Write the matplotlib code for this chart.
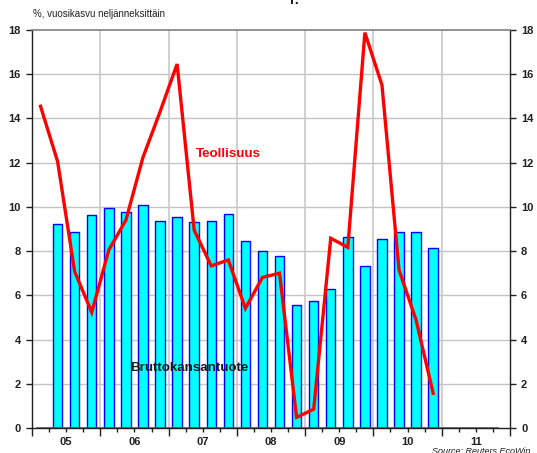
import matplotlib
matplotlib.use("Agg")
import matplotlib.pyplot as plt
import matplotlib.transforms as mtransforms
import numpy as np

plt.rcParams['font.family'] = ['Liberation Sans', 'DejaVu Sans']

# Quarterly data, 2005Q1 .. 2010Q4 (quarter index 0 = 2005Q1)
teollisuus = [14.55, 12.05, 7.07, 5.23, 8.05, 9.4, 12.24, 14.3, 16.46, 8.95,
              7.33, 7.6, 5.41, 6.81, 7.0, 0.48, 0.85, 8.58, 8.17, 17.88,
              15.51, 7.15, 4.88, 1.57]
# 2005Q2 .. 2010Q4
bkt = [9.23, 8.88, 9.65, 9.94, 9.75, 10.1, 9.35, 9.56, 9.3, 9.35,
       9.68, 8.44, 7.99, 7.78, 5.58, 5.74, 6.3, 8.62, 7.31, 8.53,
       8.85, 8.85, 8.16]
year_labels = ['05', '06', '07', '08', '09', '10', '11']
y_ticks = [0, 2, 4, 6, 8, 10, 12, 14, 16, 18]

n_q = 4 * len(year_labels)
line_x = np.arange(len(teollisuus)) + 0.5
bar_x = np.arange(len(bkt)) + 1.5 + (len(teollisuus) - 1 - len(bkt))

fig = plt.figure(figsize=(5.37, 4.53), dpi=100)
ax = fig.add_axes([0.0596, 0.0552, 0.8901, 0.8786])

ax.set_xlim(0, n_q)
ax.set_ylim(0, 18)

# grid
for y in y_ticks[1:-1]:
    ax.axhline(y, color='#c4c4c4', lw=1.0, zorder=0)
for xv in range(4, n_q, 4):
    ax.axvline(xv, color='#c8c8c8', lw=1.2, zorder=0)

ax.bar(bar_x, bkt, width=0.55, color='#00ffff', edgecolor='#0000ff',
       linewidth=1.0, zorder=2)
ax.axhline(0, xmin=0.3 / n_q, xmax=(n_q - 0.7) / n_q, color='#555555', lw=1.2, zorder=3)
ax.plot(line_x, teollisuus, color='#ff0000', lw=2.4, zorder=4,
        solid_joinstyle='miter')

# spines
for s in ['top']:
    ax.spines[s].set_color('#808080')
    ax.spines[s].set_linewidth(1.2)
for s in ['left', 'right', 'bottom']:
    ax.spines[s].set_color('#202020')
    ax.spines[s].set_linewidth(1.0)

# y ticks both sides
ax.set_yticks(y_ticks)
ax.set_yticklabels([str(v) for v in y_ticks], fontweight='bold', fontsize=8)
ax.tick_params(axis='y', which='both', left=True, right=True, labelleft=True,
               labelright=True, direction='out', length=4, width=1, pad=4,
               colors='#202020')

# x ticks
ax.set_xticks(np.arange(0, n_q + 1, 4))
ax.set_xticklabels([])
ax.set_xticks(np.arange(0, n_q + 1, 1), minor=True)
ax.tick_params(axis='x', which='major', direction='out', length=6, width=1, colors='#202020')
ax.tick_params(axis='x', which='minor', direction='out', length=3, width=1, colors='#202020')

trans = mtransforms.blended_transform_factory(ax.transData, ax.transAxes)
for i, lab in enumerate(year_labels):
    ax.text(4 * i + 2, -0.022, lab, transform=trans, ha='center', va='top',
            fontsize=8, fontweight='bold', color='#202020')

ax.text(9.6, 12.4, 'Teollisuus', color='#ff0000', fontsize=9.6, fontweight='bold',
        ha='left', va='center', zorder=5)
ax.text(5.75, 2.7, 'Bruttokansantuote', color='#1a1a1a', fontsize=9.6,
        fontweight='bold', ha='left', va='center', zorder=5)

fig.text(33 / 537, 1 - 14 / 453, '%, vuosikasvu neljänneksittäin', fontsize=7,
         ha='left', va='center', color='#202020')
fig.text(290 / 537, 1.0, 'r.', fontsize=10, fontweight='bold', ha='left',
         va='center', color='#202020')
fig.text(530 / 537, 1 - 451 / 453, 'Source: Reuters EcoWin', fontsize=6.5,
         style='italic', ha='right', va='center', color='#202020')

fig.savefig('out.png', dpi=100)
